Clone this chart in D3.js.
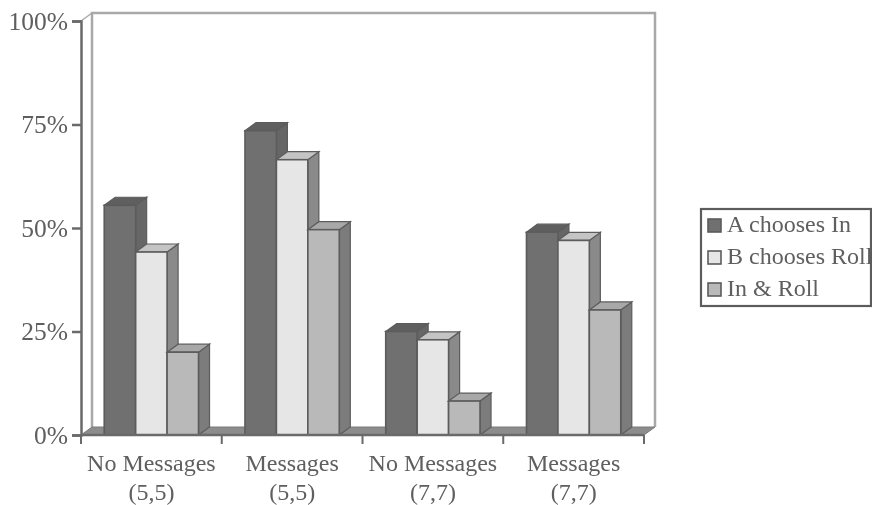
<!DOCTYPE html>
<html>
<head>
<meta charset="utf-8">
<script src="https://cdn.jsdelivr.net/npm/d3@7"></script>
<style>
  html, body { margin: 0; padding: 0; background: #fff; }
  svg { display: block; }
  text { font-family: "Liberation Serif", serif; fill: #5e5e5e; }
</style>
</head>
<body>
<div id="chart"></div>
<script>
const categories = [["No Messages", "(5,5)"], ["Messages", "(5,5)"], ["No Messages", "(7,7)"], ["Messages", "(7,7)"]];
const seriesNames = ["A chooses In", "B chooses Roll", "In & Roll"];
const aChoosesIn = [55.5, 73.5, 25, 49];
const bChoosesRoll = [44.2, 66.5, 23, 47];
const inAndRoll = [20, 49.6, 8.2, 30.2];
const yTicks = [0, 25, 50, 75, 100];

const seriesValues = [aChoosesIn, bChoosesRoll, inAndRoll];
const frontColors = ["#6f6f6f", "#e6e6e6", "#b9b9b9"];
const topColors = ["#5f5f5f", "#c4c4c4", "#a8a8a8"];
const sideColors = ["#666666", "#8a8a8a", "#7c7c7c"];

const chartWidth = 872, chartHeight = 505;
const plotLeft = 81, plotRight = 644, plotTop = 21, plotBottom = 435;
const depthX = 11, depthY = 8;
const lineColor = "#6a6a6a";
const wallColor = "#a8a8a8";

const svg = d3.select("#chart").append("svg")
    .attr("width", chartWidth)
    .attr("height", chartHeight);

// the scan is a little soft
const blur = svg.append("defs").append("filter").attr("id", "soft");
blur.append("feGaussianBlur").attr("stdDeviation", 0.45);
const g = svg.append("g").attr("filter", "url(#soft)");

const yScale = d3.scaleLinear().domain([0, 100]).range([plotBottom, plotTop]);
const xScale = d3.scaleBand()
    .domain(d3.range(categories.length))
    .range([plotLeft, plotRight])
    .paddingInner(0.33)
    .paddingOuter(0.165);
const barScale = d3.scaleBand()
    .domain(d3.range(seriesNames.length))
    .range([0, xScale.bandwidth()]);

//back wall
g.append("path")
    .attr("d", `M${plotLeft + depthX},${plotBottom - depthY} V${plotTop - depthY} H${plotRight + depthX} V${plotBottom - depthY}`)
    .attr("fill", "#fff")
    .attr("stroke", wallColor)
    .attr("stroke-width", 2.5);
g.append("path")
    .attr("d", `M${plotLeft},${plotTop} L${plotLeft + depthX},${plotTop - depthY}`)
    .attr("fill", "none")
    .attr("stroke", wallColor)
    .attr("stroke-width", 1.5);

//floor
g.append("path")
    .attr("d", `M${plotLeft},${plotBottom} L${plotLeft + depthX},${plotBottom - depthY} H${plotRight + depthX} L${plotRight},${plotBottom} Z`)
    .attr("fill", "#8c8c8c")
    .attr("stroke", "#7a7a7a");

//draw bars
const groups = g.selectAll(".group")
    .data(categories)
    .enter().append("g")
    .attr("class", "group")
    .attr("transform", (d, i) => "translate(" + xScale(i) + ",0)");

seriesValues.forEach((values, s) => {
    const w = barScale.bandwidth();
    const x0 = barScale(s);
    const bars = groups.append("g").datum((d, i) => values[i]);
    bars.append("path")
        .attr("d", (d) => `M${x0 + w},${yScale(d)} l${depthX},${-depthY} V${plotBottom - depthY} L${x0 + w},${plotBottom} Z`)
        .attr("fill", sideColors[s])
        .attr("stroke", "#5c5c5c")
        .attr("stroke-width", 1.2);
    bars.append("path")
        .attr("d", (d) => `M${x0},${yScale(d)} l${depthX},${-depthY} h${w} l${-depthX},${depthY} Z`)
        .attr("fill", topColors[s])
        .attr("stroke", "#5c5c5c")
        .attr("stroke-width", 1.2);
    bars.append("rect")
        .attr("x", x0)
        .attr("y", (d) => yScale(d))
        .attr("width", w)
        .attr("height", (d) => plotBottom - yScale(d))
        .attr("fill", frontColors[s])
        .attr("stroke", "#5c5c5c")
        .attr("stroke-width", 1.6);
});

//draw y-axis
const yAxis = g.append("g")
    .attr("transform", "translate(" + plotLeft + ",0)")
    .call(d3.axisLeft(yScale).tickValues(yTicks).tickFormat((d) => d + "%").tickSize(9).tickPadding(4));
yAxis.select(".domain").attr("stroke", lineColor).attr("stroke-width", 2.5);
yAxis.selectAll(".tick line").attr("stroke", lineColor).attr("stroke-width", 2.5);
yAxis.selectAll(".tick text")
    .attr("font-size", 25.5)
    .attr("font-family", "Liberation Serif")
    .attr("fill", "#5e5e5e");

//draw x-axis
const xEdges = d3.scaleLinear().domain([0, categories.length]).range([plotLeft, plotRight]);
g.append("line")
    .attr("x1", plotLeft).attr("x2", plotRight)
    .attr("y1", plotBottom).attr("y2", plotBottom)
    .attr("stroke", lineColor)
    .attr("stroke-width", 2.5);
g.selectAll(".xtick")
    .data(d3.range(categories.length + 1))
    .enter().append("line")
    .attr("class", "xtick")
    .attr("x1", (d) => xEdges(d)).attr("x2", (d) => xEdges(d))
    .attr("y1", plotBottom).attr("y2", plotBottom + 9)
    .attr("stroke", lineColor)
    .attr("stroke-width", 2);
g.selectAll(".xlabel")
    .data(categories)
    .enter().append("text")
    .attr("class", "xlabel")
    .attr("text-anchor", "middle")
    .attr("font-size", 24)
    .attr("transform", (d, i) => "translate(" + (xEdges(i) + xEdges(i + 1)) / 2 + ",471)")
    .selectAll("tspan")
    .data((d) => d)
    .enter().append("tspan")
    .attr("x", 0)
    .attr("y", (d, i) => i * 29)
    .text((d) => d);

//legend
const legendY = d3.scalePoint().domain(seriesNames).range([225, 289]);
g.append("rect")
    .attr("x", 701).attr("y", 209)
    .attr("width", 170).attr("height", 97)
    .attr("fill", "#fff")
    .attr("stroke", "#5c5c5c")
    .attr("stroke-width", 2.2);
const legend = g.selectAll(".legend")
    .data(seriesNames)
    .enter().append("g")
    .attr("class", "legend")
    .attr("transform", (d) => "translate(708," + legendY(d) + ")");
legend.append("rect")
    .attr("x", 0).attr("y", -6)
    .attr("width", 13).attr("height", 13)
    .attr("fill", (d, i) => frontColors[i])
    .attr("stroke", "#5c5c5c")
    .attr("stroke-width", 1.6);
legend.append("text")
    .attr("x", 19)
    .attr("y", 7)
    .attr("font-size", 24)
    .text((d) => d);
</script>
</body>
</html>
